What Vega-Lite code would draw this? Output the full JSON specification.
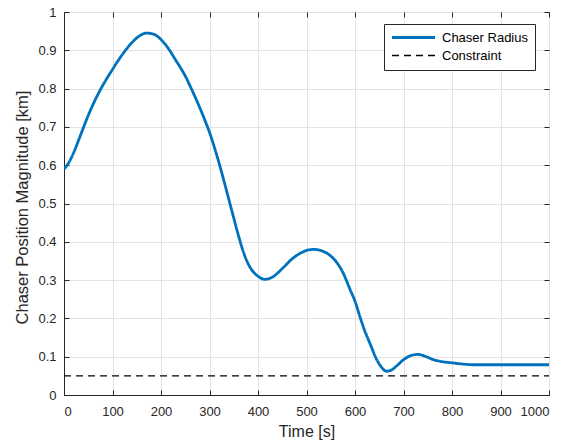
{
  "$schema": "https://vega.github.io/schema/vega-lite/v6.json",
  "width": 485,
  "height": 383,
  "autosize": {"type": "none"},
  "padding": {"left": 64, "top": 12, "right": 23, "bottom": 48},
  "background": "white",
  "config": {
    "font": "Liberation Sans",
    "view": {"stroke": "#262626", "strokeWidth": 1},
    "axis": {
      "labelFont": "Liberation Sans",
      "titleFont": "Liberation Sans",
      "labelFontSize": 13,
      "titleFontSize": 16,
      "titleFontWeight": "normal",
      "labelColor": "#262626",
      "titleColor": "#262626",
      "domainColor": "#262626",
      "tickColor": "#262626",
      "gridColor": "#e3e3e3",
      "gridOpacity": 1
    }
  },
  "data": {
    "values": [
      {"t": 0, "v": 0.590, "series": "Chaser Radius"},
      {"t": 10, "v": 0.607, "series": "Chaser Radius"},
      {"t": 20, "v": 0.633, "series": "Chaser Radius"},
      {"t": 30, "v": 0.665, "series": "Chaser Radius"},
      {"t": 40, "v": 0.698, "series": "Chaser Radius"},
      {"t": 50, "v": 0.730, "series": "Chaser Radius"},
      {"t": 60, "v": 0.759, "series": "Chaser Radius"},
      {"t": 75, "v": 0.797, "series": "Chaser Radius"},
      {"t": 90, "v": 0.830, "series": "Chaser Radius"},
      {"t": 100, "v": 0.850, "series": "Chaser Radius"},
      {"t": 110, "v": 0.870, "series": "Chaser Radius"},
      {"t": 125, "v": 0.897, "series": "Chaser Radius"},
      {"t": 140, "v": 0.920, "series": "Chaser Radius"},
      {"t": 155, "v": 0.937, "series": "Chaser Radius"},
      {"t": 170, "v": 0.945, "series": "Chaser Radius"},
      {"t": 185, "v": 0.942, "series": "Chaser Radius"},
      {"t": 200, "v": 0.928, "series": "Chaser Radius"},
      {"t": 215, "v": 0.905, "series": "Chaser Radius"},
      {"t": 230, "v": 0.875, "series": "Chaser Radius"},
      {"t": 250, "v": 0.833, "series": "Chaser Radius"},
      {"t": 265, "v": 0.793, "series": "Chaser Radius"},
      {"t": 280, "v": 0.750, "series": "Chaser Radius"},
      {"t": 290, "v": 0.719, "series": "Chaser Radius"},
      {"t": 300, "v": 0.686, "series": "Chaser Radius"},
      {"t": 310, "v": 0.647, "series": "Chaser Radius"},
      {"t": 320, "v": 0.604, "series": "Chaser Radius"},
      {"t": 330, "v": 0.558, "series": "Chaser Radius"},
      {"t": 340, "v": 0.510, "series": "Chaser Radius"},
      {"t": 350, "v": 0.462, "series": "Chaser Radius"},
      {"t": 360, "v": 0.415, "series": "Chaser Radius"},
      {"t": 370, "v": 0.373, "series": "Chaser Radius"},
      {"t": 380, "v": 0.342, "series": "Chaser Radius"},
      {"t": 390, "v": 0.322, "series": "Chaser Radius"},
      {"t": 400, "v": 0.310, "series": "Chaser Radius"},
      {"t": 414, "v": 0.302, "series": "Chaser Radius"},
      {"t": 430, "v": 0.308, "series": "Chaser Radius"},
      {"t": 450, "v": 0.330, "series": "Chaser Radius"},
      {"t": 470, "v": 0.355, "series": "Chaser Radius"},
      {"t": 490, "v": 0.372, "series": "Chaser Radius"},
      {"t": 505, "v": 0.379, "series": "Chaser Radius"},
      {"t": 515, "v": 0.380, "series": "Chaser Radius"},
      {"t": 530, "v": 0.377, "series": "Chaser Radius"},
      {"t": 548, "v": 0.365, "series": "Chaser Radius"},
      {"t": 560, "v": 0.350, "series": "Chaser Radius"},
      {"t": 575, "v": 0.320, "series": "Chaser Radius"},
      {"t": 590, "v": 0.275, "series": "Chaser Radius"},
      {"t": 600, "v": 0.245, "series": "Chaser Radius"},
      {"t": 610, "v": 0.205, "series": "Chaser Radius"},
      {"t": 620, "v": 0.168, "series": "Chaser Radius"},
      {"t": 631, "v": 0.134, "series": "Chaser Radius"},
      {"t": 645, "v": 0.092, "series": "Chaser Radius"},
      {"t": 655, "v": 0.072, "series": "Chaser Radius"},
      {"t": 665, "v": 0.062, "series": "Chaser Radius"},
      {"t": 675, "v": 0.065, "series": "Chaser Radius"},
      {"t": 685, "v": 0.075, "series": "Chaser Radius"},
      {"t": 700, "v": 0.092, "series": "Chaser Radius"},
      {"t": 715, "v": 0.103, "series": "Chaser Radius"},
      {"t": 730, "v": 0.106, "series": "Chaser Radius"},
      {"t": 745, "v": 0.101, "series": "Chaser Radius"},
      {"t": 760, "v": 0.093, "series": "Chaser Radius"},
      {"t": 780, "v": 0.087, "series": "Chaser Radius"},
      {"t": 800, "v": 0.084, "series": "Chaser Radius"},
      {"t": 820, "v": 0.081, "series": "Chaser Radius"},
      {"t": 845, "v": 0.079, "series": "Chaser Radius"},
      {"t": 870, "v": 0.079, "series": "Chaser Radius"},
      {"t": 900, "v": 0.079, "series": "Chaser Radius"},
      {"t": 950, "v": 0.079, "series": "Chaser Radius"},
      {"t": 1000, "v": 0.079, "series": "Chaser Radius"},
      {"t": 0, "v": 0.05, "series": "Constraint"},
      {"t": 1000, "v": 0.05, "series": "Constraint"}
    ]
  },
  "encoding": {
    "color": {
      "field": "series", "type": "nominal",
      "scale": {"domain": ["Chaser Radius", "Constraint"], "range": ["#0072BD", "#000000"]},
      "legend": {
        "title": null, "orient": "none", "legendX": 320, "legendY": 12,
        "fillColor": "white", "strokeColor": "#262626", "padding": 7,
        "labelFontSize": 13, "labelFont": "Liberation Sans", "labelColor": "#000000",
        "symbolType": "stroke", "symbolSize": 100, "symbolStrokeWidth": 2, "rowPadding": 4, "labelOffset": 38,
        "encode": {
          "symbols": {
            "update": {
              "size": {"value": 1849},
              "x": {"value": 22.5},
              "strokeWidth": {"signal": "datum.value == 'Chaser Radius' ? 2.8 : 1.3"}
            }
          }
        }
      }
    },
    "strokeDash": {
      "field": "series", "type": "nominal",
      "scale": {"domain": ["Chaser Radius", "Constraint"], "range": [[1, 0], [7, 5]]}
    }
  },
  "layer": [
    {
      "transform": [{"filter": "datum.series == 'Chaser Radius'"}],
      "mark": {"type": "line", "clip": true, "strokeWidth": 2.8, "interpolate": "monotone"},
      "encoding": {
        "x": {
          "field": "t", "type": "quantitative",
          "scale": {"domain": [0, 1000], "nice": false, "zero": false},
          "axis": {"title": "Time [s]", "format": "d", "values": [0,100,200,300,400,500,600,700,800,900,1000], "tickSize": -5, "labelPadding": 15, "titlePadding": 5, "grid": true}
        },
        "y": {
          "field": "v", "type": "quantitative",
          "scale": {"domain": [0, 1], "nice": false},
          "axis": {"title": "Chaser Position Magnitude [km]", "titleFontSize": 16.5, "titleY": 195, "values": [0,0.1,0.2,0.3,0.4,0.5,0.6,0.7,0.8,0.9,1], "labelExpr": "datum.value == 0 ? '0' : datum.value == 1 ? '1' : format(datum.value, '.1f')", "tickSize": -5, "labelPadding": 13, "titlePadding": 7, "grid": true}
        }
      }
    },
    {
      "transform": [{"filter": "datum.series == 'Constraint'"}],
      "mark": {"type": "line", "clip": true, "strokeWidth": 1.3},
      "encoding": {
        "x": {
          "field": "t", "type": "quantitative",
          "axis": {"orient": "top", "title": null, "labels": false, "values": [0,100,200,300,400,500,600,700,800,900,1000], "tickSize": -5, "grid": false, "domain": false}
        },
        "y": {
          "field": "v", "type": "quantitative",
          "axis": {"orient": "right", "title": null, "labels": false, "values": [0,0.1,0.2,0.3,0.4,0.5,0.6,0.7,0.8,0.9,1], "tickSize": -5, "grid": false, "domain": false}
        }
      }
    }
  ],
  "resolve": {"axis": {"x": "independent", "y": "independent"}}
}
